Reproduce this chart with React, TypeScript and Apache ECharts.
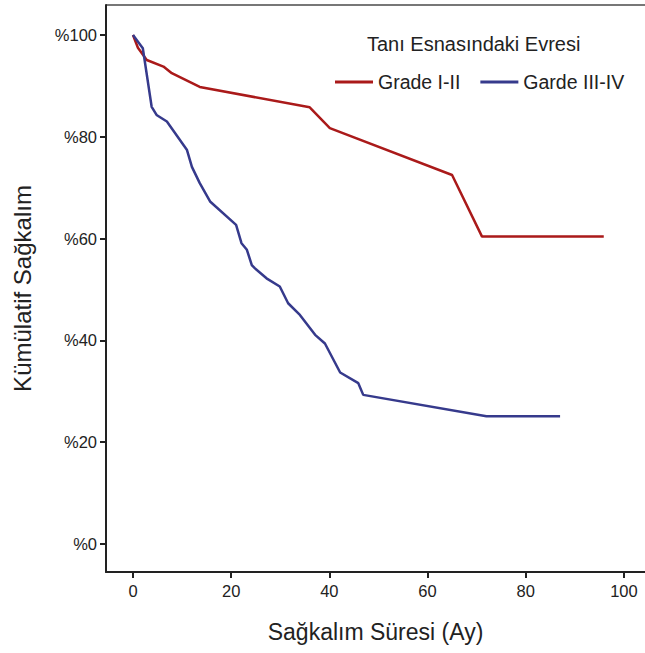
import React, { useEffect, useRef } from "react";
import * as echarts from "echarts";

const seriesNames = ["Grade I-II", "Garde III-IV"];
const gradeLow: [number, number][] = [
  [0, 100], [1, 97.5], [2.8, 95.1], [6.2, 93.8], [7.9, 92.5], [13.6, 89.8],
  [36.0, 85.8], [40.1, 81.7], [65.0, 72.5], [71.1, 60.4], [95.9, 60.4],
];
const gradeHigh: [number, number][] = [
  [0, 100], [2.0, 97.4], [3.8, 85.9], [4.8, 84.3], [6.9, 83.0], [11.0, 77.4],
  [12.0, 74.1], [13.6, 70.9], [15.7, 67.3], [21.0, 62.7], [22.1, 59.1],
  [23.2, 57.8], [24.2, 54.8], [24.8, 54.2], [27.2, 52.2], [29.9, 50.6],
  [31.6, 47.3], [34.0, 45.0], [37.1, 41.1], [39.1, 39.4], [42.2, 33.7],
  [45.9, 31.6], [46.9, 29.3], [72.0, 25.1], [87.0, 25.1],
];
const xTicks = [0, 20, 40, 60, 80, 100];
const yTicks = [0, 20, 40, 60, 80, 100];
const legendTitle = "Tanı Esnasındaki Evresi";
const xTitle = "Sağkalım Süresi (Ay)";
const yTitle = "Kümülatif Sağkalım";

const FONT = "'Liberation Sans', Arial, sans-serif";
const TEXT = "#222";

export default function App() {
  const ref = useRef<HTMLDivElement>(null);
  useEffect(() => {
    if (!ref.current) return;
    const chart = echarts.init(ref.current, null, { renderer: "svg" });
    chart.setOption({
      animation: false,
      backgroundColor: "#fff",
      textStyle: { fontFamily: FONT },
      grid: { left: 106, top: 5, right: 0, bottom: 81 },
      legend: {
        data: seriesNames,
        left: 335,
        top: 72,
        padding: 0,
        icon: "rect",
        itemWidth: 38,
        itemHeight: 3,
        itemGap: 20,
        textStyle: { fontFamily: FONT, fontSize: 19.5, color: TEXT },
      },
      graphic: [
        {
          type: "text",
          left: 367,
          top: 34,
          style: { text: legendTitle, font: `20px ${FONT}`, fill: TEXT },
        },
        {
          type: "line",
          shape: { x1: 106, y1: 5, x2: 645, y2: 5 },
          style: { stroke: "#777", lineWidth: 2 },
        },
      ],
      xAxis: {
        type: "value",
        min: -5.5,
        max: 104.3,
        name: xTitle,
        nameLocation: "middle",
        nameGap: 48,
        nameTextStyle: { fontFamily: FONT, fontSize: 23, color: TEXT },
        axisLine: { show: true, onZero: false, lineStyle: { color: "#222", width: 2 } },
        axisTick: { show: true, length: 6, customValues: xTicks, lineStyle: { color: "#222", width: 2 } },
        axisLabel: { customValues: xTicks, fontFamily: FONT, fontSize: 16.5, color: TEXT, margin: 10 },
        splitLine: { show: false },
      },
      yAxis: {
        type: "value",
        min: -5.5,
        max: 105.9,
        name: yTitle,
        nameLocation: "middle",
        nameGap: 72,
        nameTextStyle: { fontFamily: FONT, fontSize: 24, color: TEXT },
        axisLine: { show: true, onZero: false, lineStyle: { color: "#222", width: 2 } },
        axisTick: { show: true, length: 6, customValues: yTicks, lineStyle: { color: "#222", width: 2 } },
        axisLabel: {
          customValues: yTicks,
          formatter: (v: number) => "%" + v,
          fontFamily: FONT,
          fontSize: 16.5,
          color: TEXT,
          margin: 9,
        },
        splitLine: { show: false },
      },
      series: [
        {
          name: seriesNames[0],
          type: "line",
          data: gradeLow,
          showSymbol: false,
          symbol: "none",
          lineStyle: { color: "#AA1A1A", width: 2.5 },
          itemStyle: { color: "#AA1A1A" },
        },
        {
          name: seriesNames[1],
          type: "line",
          data: gradeHigh,
          showSymbol: false,
          symbol: "none",
          lineStyle: { color: "#363A8C", width: 2.5 },
          itemStyle: { color: "#363A8C" },
        },
      ],
    });
    return () => chart.dispose();
  }, []);
  return <div ref={ref} style={{ width: 645, height: 653, position: "absolute", left: 0, top: 0 }} />;
}
